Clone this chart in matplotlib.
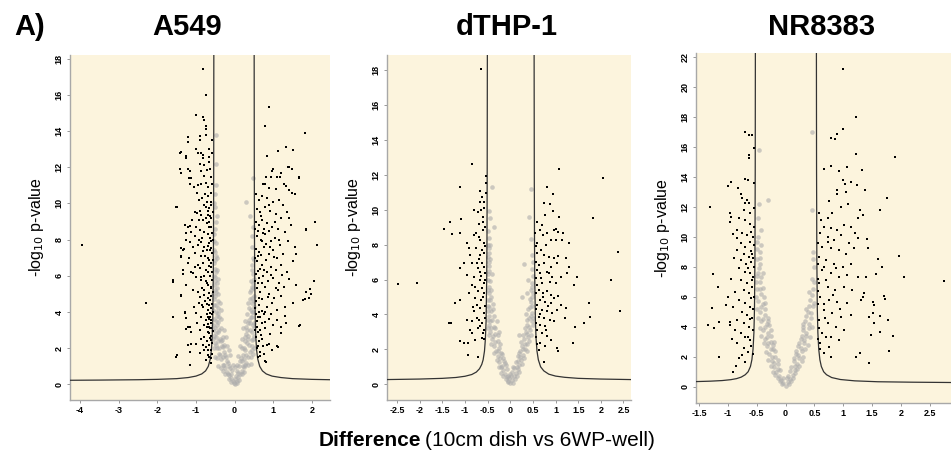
import numpy as np
import matplotlib
matplotlib.use("Agg")
import matplotlib.pyplot as plt

plt.rcParams['axes.unicode_minus'] = False
SANS = ['Liberation Sans', 'DejaVu Sans']

titles = ["A549", "dTHP-1", "NR8383"]

# ---- A549 ----
a549_sig = [
    (-0.82, 17.4), (-0.73, 16.0), (-1.01, 14.9), (-0.82, 14.8), (-0.78, 14.6), (-1.21, 13.65), (-0.89, 13.7),
    (-0.73, 14.3), (-0.73, 14.1), (-0.73, 13.8), (-1.38, 12.85), (-1.25, 12.6), (-1.38, 11.7), (-1.16, 11.8),
    (-1.16, 11.1), (-1.51, 9.8), (-1.16, 8.73), (-1.25, 8.0), (-1.32, 7.5), (-1.38, 7.1), (-1.33, 6.1),
    (-1.59, 5.67), (-1.38, 4.9), (-1.29, 4.0), (-1.59, 3.7), (-1.16, 3.2), (-1.25, 3.07), (-1.2, 2.2),
    (-1.51, 1.54), (-1.16, 1.07), (-2.28, 4.5), (-3.96, 7.7),
    (-1.21, 13.4), (-0.9, 13.5), (-0.58, 13.5), (-1.4, 12.8), (-1.27, 12.5), (-0.99, 13.0), (-0.94, 12.8),
    (-0.86, 12.8), (-0.82, 12.7), (-0.65, 13.0), (-1.4, 11.9), (-1.21, 11.9), (-0.9, 12.2), (-0.78, 12.1),
    (-0.72, 11.84), (-0.82, 12.5), (-0.66, 12.57), (-0.6, 11.47), (-1.17, 11.4), (-1.12, 11.4), (-0.95, 11.0),
    (-0.86, 11.1), (-0.73, 11.15), (-0.69, 10.9), (-0.58, 11.1), (-1.49, 9.8),
    (-1.03, 9.54), (-0.97, 9.45), (-0.9, 9.57), (-0.86, 9.35), (-0.75, 9.81), (-0.72, 10.1), (-0.65, 9.72),
    (-0.69, 9.35), (-0.82, 9.08), (-0.72, 8.9), (-0.6, 9.17), (-0.99, 8.7), (-0.9, 8.52), (-0.78, 8.43),
    (-0.65, 8.7), (-0.58, 8.34), (-1.21, 8.7), (-1.14, 8.43), (-1.34, 7.42), (-1.39, 7.05), (-1.17, 6.96),
    (-1.03, 7.24), (-0.95, 7.7), (-0.86, 7.88), (-0.78, 7.6), (-0.72, 7.42), (-0.65, 7.79), (-0.58, 7.24),
    (-0.65, 6.87), (-0.82, 6.69), (-0.9, 6.41), (-0.75, 6.31), (-0.6, 6.5), (-0.99, 5.94), (-0.86, 5.76),
    (-0.72, 5.58), (-0.58, 5.76), (-0.78, 5.21), (-0.65, 5.03), (-0.9, 4.84), (-0.58, 4.47), (-0.82, 4.29),
    (-0.69, 4.1), (-0.99, 3.92), (-0.86, 3.73), (-0.63, 3.73), (-0.75, 3.55), (-0.72, 3.18), (-0.9, 3.0),
    (-0.65, 2.82), (-0.78, 2.63), (-0.6, 2.45), (-0.82, 2.17), (-0.69, 1.9), (-0.9, 1.71), (-0.65, 1.52),
    (-0.75, 1.34), (-0.6, 1.16), (-1.59, 5.76), (-1.38, 4.93), (-1.29, 3.92), (-1.25, 3.65), (-1.21, 3.18),
    (-1.12, 2.91), (-1.12, 2.26), (-1.49, 1.62), (-1.16, 1.8), (-0.99, 2.26), (-1.25, 5.49), (-1.12, 6.22),
    (-1.08, 6.13), (-1.34, 6.31), (-1.21, 6.69), (-1.38, 7.51), (-1.16, 7.88), (-1.25, 8.34), (-1.29, 8.8),
    (-0.62, 9.9), (-0.7, 9.6), (-0.8, 9.9), (-0.93, 10.2), (-0.68, 10.4), (-0.6, 10.6), (-0.77, 10.5),
    (-0.85, 10.3), (-0.64, 8.1), (-0.7, 8.3), (-0.84, 8.1), (-0.92, 8.0), (-0.6, 7.9), (-0.76, 7.1),
    (-0.68, 7.0), (-0.62, 6.7), (-0.88, 7.1), (-0.7, 6.2), (-0.64, 6.0), (-0.8, 6.0), (-0.95, 6.6),
    (-0.68, 5.5), (-0.62, 5.3), (-0.74, 5.7), (-0.85, 5.3), (-0.94, 5.1), (-0.7, 4.8), (-0.62, 4.9),
    (-0.76, 4.6), (-0.66, 4.4), (-0.6, 4.2), (-0.72, 3.9), (-0.66, 3.6), (-0.6, 3.4), (-0.69, 3.35),
    (-0.63, 3.1), (-0.8, 3.3), (-0.84, 4.4), (-0.93, 4.5), (-0.68, 2.9), (-0.61, 2.7), (-0.72, 2.4),
    (-0.66, 2.2), (-0.6, 1.9), (-0.62, 1.45), (-0.7, 1.6), (-0.8, 1.9), (-0.88, 2.5), (-0.96, 3.4),
    (-1.05, 4.3), (-1.07, 5.2), (-1.02, 6.5), (-1.08, 7.6), (-1.02, 8.2), (-1.09, 9.1), (-0.97, 10.6),
    (-1.05, 10.9), (-0.63, 11.9), (-0.67, 12.3), (-0.59, 12.8), (-0.6, 10.1), (-0.6, 8.7), (-0.61, 7.55),
    (-0.59, 6.2), (-0.6, 5.4), (-0.59, 3.9), (-0.6, 3.1), (-0.59, 2.3),
    (-0.57, 9.5), (-0.63, 9.3), (-0.67, 8.95), (-0.74, 9.2), (-0.57, 8.0), (-0.63, 7.45), (-0.69, 7.65),
    (-0.57, 6.9), (-0.66, 6.55), (-0.57, 5.1), (-0.64, 4.65), (-0.71, 4.45), (-0.57, 4.0), (-0.64, 3.95),
    (-0.7, 3.75), (-0.61, 3.55), (-0.67, 3.15), (-0.57, 2.95), (-0.64, 2.55), (-0.58, 1.7), (-0.74, 2.05),
    (-0.78, 4.95), (-0.88, 5.95), (-0.81, 7.35), (-0.92, 9.1), (-0.79, 11.5), (-0.88, 11.8),
    (0.89, 15.35), (0.78, 14.25), (1.81, 13.9), (1.34, 13.1), (1.52, 12.95), (1.13, 12.9), (0.84, 12.6),
    (1.39, 12.0), (1.48, 11.9), (1.68, 11.4), (0.97, 11.8), (1.19, 11.7), (0.78, 11.1), (1.48, 10.55),
    (1.56, 10.5), (2.07, 8.98), (1.86, 8.55), (2.13, 7.7), (1.56, 7.6), (1.6, 5.5), (1.86, 5.1), (1.99, 5.0),
    (2.05, 5.7), (1.77, 4.67), (1.69, 3.3), (1.33, 3.4), (1.19, 2.85), (1.1, 2.1), (0.8, 1.3),
    (1.41, 12.0), (0.99, 11.88), (1.09, 11.47), (1.18, 11.44), (0.95, 11.44), (0.82, 11.47), (0.73, 11.1),
    (0.9, 10.83), (1.06, 10.78), (1.27, 11.1), (1.34, 10.96), (1.42, 10.72), (1.66, 11.47), (1.94, 5.25),
    (1.81, 4.71), (1.92, 4.77), (1.67, 3.23), (1.09, 3.55), (1.2, 3.19), (1.12, 2.08), (0.82, 1.25),
    (0.9, 2.26), (1.85, 8.56),
    (0.56, 10.5), (0.62, 10.2), (0.7, 10.4), (0.85, 10.3), (1.0, 10.1), (1.15, 10.2), (1.25, 9.9), (0.58, 9.7),
    (0.66, 9.5), (0.78, 9.8), (0.92, 9.6), (1.08, 9.4), (1.2, 9.2), (1.35, 9.5), (0.55, 9.0), (0.63, 8.8),
    (0.72, 9.1), (0.85, 8.9), (0.98, 8.7), (1.12, 8.6), (1.3, 8.4), (1.45, 8.8), (0.57, 8.2), (0.68, 8.0),
    (0.8, 8.3), (0.93, 7.9), (1.05, 8.1), (1.18, 7.7), (1.38, 7.9), (0.55, 7.5), (0.64, 7.3), (0.75, 7.6),
    (0.88, 7.2), (1.0, 7.4), (1.1, 7.0), (1.25, 7.2), (1.5, 6.8), (0.58, 6.8), (0.7, 6.6), (0.82, 6.9),
    (0.95, 6.5), (1.08, 6.3), (1.2, 6.6), (1.35, 6.2), (0.55, 6.1), (0.62, 5.9), (0.74, 6.0), (0.86, 5.7),
    (1.0, 5.9), (1.14, 5.6), (1.28, 5.4), (0.57, 5.3), (0.67, 5.1), (0.78, 5.4), (0.9, 5.0), (1.03, 4.8),
    (1.2, 4.9), (0.55, 4.6), (0.63, 4.4), (0.72, 4.7), (0.84, 4.3), (0.97, 4.5), (1.1, 4.1), (1.3, 4.3),
    (0.56, 3.9), (0.65, 3.7), (0.76, 3.9), (0.88, 3.6), (1.0, 3.3), (0.58, 3.2), (0.66, 3.0), (0.8, 3.1),
    (0.92, 2.8), (0.55, 2.6), (0.62, 2.4), (0.72, 2.5), (0.85, 2.2), (0.57, 2.0), (0.65, 1.8), (0.6, 1.5),
    (0.75, 1.7), (0.98, 1.9), (0.6, 2.9), (0.64, 4.0), (0.6, 5.6), (0.66, 6.4), (0.6, 7.1), (0.7, 7.9),
    (0.6, 8.5), (0.76, 8.6), (0.68, 9.3), (0.88, 9.9), (0.57, 3.5), (0.7, 3.4), (0.7, 5.6), (0.83, 6.2),
    (0.92, 7.6), (1.04, 9.0), (1.15, 8.0), (0.8, 4.0), (0.95, 3.9), (1.13, 5.2), (1.4, 5.8), (1.3, 3.8),
    (1.5, 4.5), (1.42, 9.2), (1.58, 7.2),
    (0.53, 8.6), (0.54, 7.0), (0.53, 5.7), (0.54, 4.2), (0.53, 3.0), (0.61, 6.25), (0.69, 7.15), (0.77, 6.3),
    (0.63, 4.75), (0.71, 4.05), (0.79, 3.45), (0.6, 3.75), (0.68, 2.75), (0.61, 2.15), (0.73, 2.1), (0.66, 1.55),
    (0.87, 4.85), (0.93, 6.05), (1.02, 7.05), (0.81, 7.75), (0.74, 8.35), (0.9, 8.45), (1.22, 6.05), (1.06, 5.35),
]
a549_ns = [
    (0, 0.05), (-0.05, 0.2), (0.05, 0.2), (-0.1, 0.35), (0.1, 0.4), (0, 0.3), (-0.15, 0.5), (0.15, 0.55),
    (-0.2, 0.7), (0.2, 0.75), (-0.08, 0.6), (0.08, 0.65), (-0.25, 0.9), (0.25, 0.95), (-0.12, 0.9), (0.12, 1.0),
    (-0.3, 1.1), (0.3, 1.2), (-0.18, 1.2), (0.18, 1.3), (-0.35, 1.4), (0.35, 1.5), (-0.22, 1.5), (0.22, 1.6),
    (-0.4, 1.7), (0.4, 1.8), (-0.28, 1.8), (0.27, 1.9), (-0.45, 2.0), (0.45, 2.1), (-0.33, 2.1), (0.32, 2.3),
    (-0.5, 2.3), (0.48, 2.5), (-0.38, 2.5), (0.36, 2.7), (-0.52, 2.7), (-0.42, 2.9), (0.4, 3.0), (-0.3, 2.6),
    (0.3, 2.8), (-0.5, 3.1), (0.47, 3.3), (-0.45, 3.3), (0.35, 3.4), (-0.52, 3.6), (0.42, 3.7), (-0.4, 3.7),
    (0.48, 4.0), (-0.48, 4.0), (0.38, 4.2), (-0.52, 4.4), (0.45, 4.5), (-0.44, 4.6), (0.49, 4.9), (-0.5, 4.9),
    (0.42, 5.2), (-0.46, 5.3), (0.47, 5.6), (-0.51, 5.7), (-0.48, 6.2), (0.45, 6.3), (-0.52, 6.7), (0.49, 6.9),
    (-0.5, 7.3), (-0.47, 7.8), (0.46, 7.6), (-0.52, 8.3), (-0.49, 9.0), (0.48, 8.7), (-0.5, 9.8), (0.41, 9.3),
    (0.47, 11.4), (-0.47, 11.0), (-0.48, 12.2), (-0.47, 13.8), (-0.5, 10.5), (0.3, 10.1),
    (-0.02, 0.1), (0.03, 0.45), (-0.06, 0.8), (0.07, 1.1), (-0.15, 1.0), (0.14, 1.3), (-0.2, 1.3), (-0.25, 1.6),
    (0.25, 1.4), (-0.27, 2.2), (0.2, 2.0), (-0.35, 2.4), (0.28, 2.4), (-0.4, 3.0), (0.33, 3.0), (-0.45, 3.8),
    (0.4, 3.4), (-0.42, 4.2), (0.44, 4.0), (-0.5, 5.2), (0.4, 4.7), (-0.44, 5.8), (0.43, 5.7), (-0.5, 6.4),
    (0.46, 6.6), (-0.46, 7.0),
    (-0.15, 0.3), (0.12, 0.25), (-0.08, 0.15), (0.06, 0.1), (-0.25, 0.6), (-0.18, 0.55), (0.18, 0.6),
    (0.25, 0.7), (-0.3, 0.75), (0.05, 0.75), (-0.42, 1.0), (-0.35, 0.9), (-0.28, 1.05), (-0.05, 1.05),
    (0.02, 0.95), (0.22, 1.0), (0.28, 1.1), (0.36, 1.05), (0.42, 1.15), (-0.5, 1.5), (-0.45, 1.45),
    (-0.38, 1.6), (-0.3, 1.5), (-0.13, 1.6), (0.1, 1.55), (0.16, 1.45), (0.3, 1.6), (0.42, 1.5), (0.47, 1.7),
    (-0.54, 2.0), (-0.48, 2.2), (-0.4, 2.0), (-0.3, 2.05), (-0.2, 2.1), (-0.15, 1.9), (0.14, 2.1), (0.24, 2.0),
    (0.38, 2.2), (0.5, 2.0), (0.44, 1.9), (-0.55, 2.5), (-0.47, 2.6), (-0.42, 2.4), (-0.32, 2.45), (-0.22, 2.6),
    (0.18, 2.5), (0.26, 2.6), (0.44, 2.45), (0.5, 2.7), (0.34, 2.5), (-0.56, 3.0), (-0.48, 2.85), (-0.36, 3.1),
    (-0.28, 3.0), (0.22, 3.1), (0.3, 3.2), (0.44, 2.9), (0.5, 3.1), (-0.55, 3.3), (-0.48, 3.5), (-0.42, 3.45),
    (-0.35, 3.6), (0.27, 3.5), (0.38, 3.55), (0.46, 3.7), (0.5, 3.4), (-0.55, 4.1), (-0.44, 3.95), (-0.36, 4.1),
    (0.32, 3.9), (0.42, 4.1), (0.5, 4.3), (-0.54, 4.7), (-0.47, 4.4), (-0.38, 4.5), (0.35, 4.5), (0.44, 4.8),
    (0.5, 4.6), (-0.55, 5.0), (-0.48, 5.1), (-0.42, 5.0), (0.4, 5.1), (0.47, 5.3), (-0.53, 5.5), (-0.45, 5.6),
    (0.44, 5.4), (0.5, 5.8), (-0.54, 6.0), (-0.46, 6.3), (-0.5, 5.95), (0.48, 6.1), (-0.5, 6.9), (-0.53, 7.4),
    (-0.48, 7.1), (0.47, 7.0), (-0.52, 7.9), (-0.5, 8.6), (0.44, 8.2), (-0.45, 9.3), (-0.52, 10.0),
]
a549_curve_left_x = [-4.26, -3.5, -3.0, -2.5, -2.0, -1.5, -1.2, -1.0, -0.85, -0.75, -0.68, -0.63, -0.6, -0.58, -0.565, -0.55, -0.545, -0.54, -0.537]
a549_curve_left_y = [0.23, 0.24, 0.25, 0.26, 0.28, 0.32, 0.38, 0.46, 0.58, 0.75, 1.0, 1.4, 1.9, 2.6, 3.6, 6.2, 8.2, 12.2, 18.3]
a549_curve_right_x = [0.507, 0.51, 0.515, 0.52, 0.535, 0.55, 0.57, 0.6, 0.65, 0.72, 0.82, 0.97, 1.2, 1.5, 2.0, 2.47]
a549_curve_right_y = [18.3, 12.2, 8.2, 6.2, 3.6, 2.6, 1.9, 1.4, 1.0, 0.75, 0.58, 0.46, 0.38, 0.32, 0.28, 0.26]

# ---- dTHP-1 ----
dthp_sig = [
    (-0.65, 18.04), (-0.84, 12.62), (-1.11, 11.32), (-0.54, 11.95), (-0.54, 11.51), (-0.54, 10.94), (-0.68, 11.09),
    (-0.63, 10.71), (-0.66, 10.46), (-0.59, 10.46), (-0.57, 10.08), (-0.61, 9.6), (-0.8, 9.98), (-0.72, 9.88),
    (-1.08, 9.44), (-1.33, 9.31), (-1.46, 8.87), (-1.29, 8.61), (-1.1, 8.65), (-0.96, 8.08), (-0.91, 7.8),
    (-0.8, 8.56), (-0.75, 8.65), (-0.7, 8.46), (-0.61, 8.85), (-0.66, 8.27), (-0.59, 8.08), (-0.66, 7.41),
    (-0.59, 7.5), (-0.73, 6.93), (-0.63, 6.93), (-0.57, 6.74), (-0.85, 6.93), (-0.72, 6.64), (-0.66, 6.45),
    (-0.55, 6.36), (-0.8, 6.17), (-0.68, 5.98), (-0.59, 5.79), (-0.63, 5.51), (-0.72, 5.32), (-0.57, 5.22),
    (-1.03, 6.93), (-1.12, 6.64), (-0.96, 6.26), (-0.85, 5.69), (-0.92, 5.22), (-0.77, 4.93), (-1.11, 4.84),
    (-1.22, 4.65), (-2.49, 5.74), (-2.05, 5.81), (-1.36, 3.51), (-1.32, 3.51), (-1.12, 2.5), (-1.03, 2.35),
    (-0.94, 2.35), (-0.94, 1.68), (-0.72, 1.59), (-0.8, 4.17), (-0.73, 3.79), (-0.7, 3.7), (-0.66, 3.32),
    (-0.59, 3.13), (-0.61, 2.94), (-0.63, 2.66), (-0.72, 3.22), (-0.85, 2.94), (-0.77, 2.56), (-0.9, 3.13),
    (-0.96, 3.7), (-0.85, 3.6), (-0.68, 4.36), (-0.59, 4.07), (-0.64, 4.84), (-0.73, 4.55),
    (-0.56, 7.9), (-0.62, 7.7), (-0.7, 7.2), (-0.56, 6.0), (-0.6, 5.0), (-0.56, 4.5), (-0.62, 3.5), (-0.56, 3.8),
    (-0.57, 2.6), (-0.65, 6.2), (-0.76, 7.8), (-0.88, 7.4), (-0.78, 5.6), (-0.82, 4.4), (-0.6, 9.3), (-0.56, 9.0),
    (-0.7, 9.2), (-0.64, 10.0),
    (1.08, 12.33), (2.05, 11.8), (1.83, 9.54), (2.38, 7.59), (2.23, 5.98), (2.43, 4.19), (0.81, 11.32),
    (0.94, 10.9), (0.75, 10.4), (0.87, 10.33), (0.94, 9.94), (0.77, 9.7), (1.08, 9.56), (0.55, 8.65),
    (0.66, 8.85), (0.81, 8.65), (0.96, 8.85), (1.02, 8.87), (1.05, 8.75), (1.17, 8.65), (1.29, 8.12),
    (1.15, 8.24), (1.0, 8.24), (0.89, 8.27), (0.72, 8.56), (0.6, 8.08), (0.59, 7.5), (0.74, 7.41), (0.85, 7.31),
    (0.96, 7.22), (1.05, 7.35), (1.22, 7.22), (1.29, 6.74), (1.03, 6.93), (0.89, 6.74), (0.75, 6.93),
    (0.63, 6.83), (0.58, 6.55), (0.66, 6.36), (0.81, 6.45), (0.92, 6.17), (1.11, 6.17), (1.0, 5.79),
    (0.87, 5.88), (0.7, 5.79), (0.59, 5.69), (1.25, 6.36), (1.48, 6.17), (1.4, 5.69), (0.63, 5.41), (0.72, 5.22),
    (0.81, 5.32), (0.9, 5.13), (0.96, 4.93), (1.05, 5.03), (0.66, 4.84), (0.77, 4.74), (0.89, 4.65), (0.59, 4.55),
    (0.7, 4.26), (0.81, 4.17), (0.92, 4.07), (1.03, 4.26), (0.63, 3.88), (0.74, 3.79), (0.87, 3.7), (0.96, 3.6),
    (0.66, 3.41), (0.77, 3.32), (0.59, 3.13), (0.7, 2.94), (0.81, 2.75), (0.9, 2.56), (0.66, 2.35), (0.77, 2.18),
    (0.63, 1.99), (1.12, 4.55), (1.22, 4.36), (1.2, 3.79), (1.42, 3.28), (1.62, 3.51), (1.73, 4.65), (1.75, 3.88),
    (1.38, 2.35), (1.03, 2.07), (1.05, 1.88), (0.75, 1.25),
    (0.56, 7.9), (0.57, 7.0), (0.56, 6.1), (0.57, 5.2), (0.56, 4.3), (0.57, 3.5), (0.56, 2.7), (0.6, 2.3),
    (0.68, 7.7), (0.78, 8.0), (0.85, 6.4), (0.68, 6.1), (0.73, 5.0), (0.84, 4.5), (0.66, 4.0), (0.78, 3.1),
    (0.6, 9.3), (0.7, 9.1),
]
dthp_ns = [
    (0, 0.05), (-0.04, 0.2), (0.04, 0.25), (-0.08, 0.4), (0.08, 0.45), (-0.12, 0.6), (0.12, 0.65), (-0.02, 0.35),
    (0.02, 0.5), (-0.16, 0.8), (0.16, 0.85), (-0.08, 0.9), (0.08, 0.95), (-0.2, 1.0), (0.2, 1.1), (-0.12, 1.2),
    (0.12, 1.3), (-0.24, 1.3), (0.24, 1.4), (-0.16, 1.5), (0.17, 1.6), (-0.28, 1.6), (0.28, 1.7), (-0.2, 1.8),
    (0.22, 1.9), (-0.32, 1.9), (0.32, 2.0), (-0.24, 2.1), (0.26, 2.2), (-0.36, 2.2), (0.36, 2.3), (-0.28, 2.5),
    (0.3, 2.6), (-0.4, 2.6), (0.4, 2.7), (-0.33, 2.9), (0.34, 3.0), (-0.44, 3.0), (0.44, 3.1), (-0.37, 3.3),
    (0.38, 3.4), (-0.47, 3.4), (0.47, 3.6), (-0.4, 3.7), (0.42, 3.8), (-0.48, 3.9), (0.48, 4.1), (-0.43, 4.2),
    (0.44, 4.4), (-0.49, 4.5), (0.46, 4.7), (-0.45, 4.8), (0.49, 5.0), (-0.48, 5.2), (0.45, 5.4), (-0.46, 5.6),
    (0.48, 5.8), (-0.49, 6.0), (-0.47, 6.5), (0.47, 6.6), (-0.48, 7.0), (-0.46, 7.5), (0.49, 7.4), (-0.49, 8.0),
    (-0.47, 8.4), (0.45, 8.3), (-0.35, 9.0), (0.42, 9.6), (0.45, 11.2), (-0.4, 11.3), (-0.45, 9.5), (0.3, 6.9),
    (0.0, 0.6), (-0.3, 3.6), (0.35, 4.0), (-0.38, 4.6), (0.38, 5.2), (-0.42, 5.4), (0.4, 6.0), (-0.41, 6.3),
    (-0.44, 7.2), (0.25, 5.0), (-0.25, 3.0), (0.2, 2.8),
    (-0.06, 0.15), (0.05, 0.1), (-0.1, 0.3), (0.1, 0.3), (-0.15, 0.45), (0.14, 0.5), (-0.2, 0.65), (0.19, 0.7),
    (-0.05, 0.5), (0.04, 0.7), (-0.26, 1.0), (-0.18, 1.05), (-0.1, 1.1), (0.06, 1.0), (0.15, 1.0), (0.25, 1.15),
    (-0.3, 1.4), (-0.22, 1.5), (-0.14, 1.35), (0.16, 1.35), (0.22, 1.55), (0.3, 1.5), (-0.36, 1.8), (-0.28, 1.9),
    (-0.18, 1.75), (0.2, 1.8), (0.28, 2.0), (0.36, 1.9), (-0.42, 2.3), (-0.34, 2.4), (-0.22, 2.3), (0.24, 2.4),
    (0.32, 2.3), (0.42, 2.5), (-0.46, 2.8), (-0.38, 2.75), (-0.28, 2.8), (0.28, 2.8), (0.36, 2.9), (0.46, 2.8),
    (-0.5, 3.2), (-0.42, 3.25), (-0.33, 3.2), (0.32, 3.2), (0.42, 3.3), (0.5, 3.4), (-0.5, 3.7), (-0.44, 3.6),
    (-0.35, 3.9), (0.36, 3.7), (0.45, 3.9), (0.5, 3.8), (-0.5, 4.2), (-0.46, 4.4), (-0.38, 4.3), (0.4, 4.3),
    (0.48, 4.5), (-0.5, 4.8), (-0.42, 5.0), (0.43, 4.9), (0.5, 5.2), (-0.5, 5.4), (-0.44, 5.9), (-0.5, 6.3),
    (-0.46, 6.8), (-0.5, 7.3), (-0.48, 7.8), (-0.44, 8.0), (0.47, 5.6), (0.5, 6.2), (-0.5, 8.8), (-0.47, 9.9),
    (0.5, 7.0),
]
dthp_curve_left_x = [-2.73, -2.0, -1.5, -1.2, -1.0, -0.85, -0.75, -0.68, -0.63, -0.6, -0.57, -0.55, -0.535, -0.52, -0.515, -0.51, -0.5065]
dthp_curve_left_y = [0.27, 0.3, 0.34, 0.39, 0.46, 0.56, 0.7, 0.89, 1.14, 1.4, 1.9, 2.6, 3.6, 6.2, 8.2, 12.2, 18.9]
dthp_curve_right_x = [0.5265, 0.53, 0.535, 0.54, 0.555, 0.57, 0.59, 0.62, 0.67, 0.74, 0.85, 1.0, 1.2, 1.5, 2.0, 2.66]
dthp_curve_right_y = [18.9, 12.2, 8.2, 6.2, 3.6, 2.6, 1.9, 1.4, 1.0, 0.77, 0.58, 0.47, 0.4, 0.34, 0.3, 0.27]

# ---- NR8383 ----
nr_sig = [
    (-1.31, 11.98), (-1.26, 7.53), (-1.18, 6.63), (-1.28, 5.23), (-1.35, 4.12), (-1.24, 3.9), (-1.15, 4.34),
    (-1.03, 5.49), (-1.15, 1.99), (-0.96, 4.34), (-0.97, 4.12), (-0.93, 3.19), (-0.92, 1.0), (-1.0, 13.4),
    (-0.94, 13.7), (-0.97, 11.58), (-0.94, 11.36), (-0.96, 11.02), (-0.91, 10.2), (-0.85, 9.91), (-0.83, 13.25),
    (-0.78, 12.85), (-0.75, 12.58), (-0.7, 12.25), (-0.7, 17.03), (-0.64, 16.8), (-0.58, 16.8), (-0.54, 15.92),
    (-0.64, 15.48), (-0.63, 15.26), (-0.7, 13.9), (-0.66, 13.8), (-0.55, 13.6), (-0.67, 12.47), (-0.64, 12.29),
    (-0.72, 11.8), (-0.61, 11.58), (-0.55, 11.91), (-0.81, 11.25), (-0.7, 11.14), (-0.61, 10.88), (-0.54, 10.7),
    (-0.84, 10.47), (-0.75, 10.25), (-0.67, 10.13), (-0.6, 10.36), (-0.56, 9.98), (-0.78, 9.58), (-0.7, 9.35),
    (-0.62, 9.69), (-0.55, 9.47), (-0.84, 9.13), (-0.72, 8.9), (-0.64, 8.69), (-0.58, 8.9), (-0.77, 8.46),
    (-0.68, 8.23), (-0.6, 8.35), (-0.54, 8.01), (-0.81, 7.9), (-0.71, 7.68), (-0.62, 7.57), (-0.56, 7.35),
    (-0.78, 7.13), (-0.67, 6.9), (-0.58, 6.68), (-0.73, 6.46), (-0.64, 6.24), (-0.55, 6.01), (-0.81, 5.79),
    (-0.7, 5.57), (-0.61, 5.35), (-0.75, 5.01), (-0.67, 4.79), (-0.58, 4.57), (-0.84, 4.45), (-0.72, 4.23),
    (-0.64, 4.01), (-0.56, 3.78), (-0.78, 3.56), (-0.7, 3.34), (-0.61, 3.12), (-0.85, 2.89), (-0.73, 2.56),
    (-0.66, 2.34), (-0.81, 1.89), (-0.7, 1.67),
    (-0.9, 8.6), (-0.95, 7.2), (-0.88, 6.3), (-0.92, 5.3), (-1.0, 6.0), (-0.88, 3.8), (-0.6, 9.1), (-0.56, 8.6),
    (-0.66, 7.9), (-0.58, 7.1), (-0.6, 5.9), (-0.56, 5.2), (-0.62, 4.5), (-0.66, 3.3), (-0.6, 2.7), (-0.57, 2.2),
    (-0.76, 2.1), (-0.86, 1.4),
    (1.0, 21.22), (1.23, 18.0), (1.0, 17.19), (0.9, 16.86), (0.78, 16.64), (0.85, 16.53), (1.89, 15.37),
    (1.23, 15.55), (0.67, 14.54), (0.78, 14.74), (0.93, 14.41), (1.07, 14.69), (1.32, 14.47), (1.0, 13.8),
    (1.03, 13.53), (1.14, 13.69), (1.24, 13.46), (1.38, 13.17), (0.9, 13.13), (0.89, 12.91), (1.05, 13.02),
    (1.76, 12.58), (0.75, 12.4), (0.96, 12.02), (1.29, 11.84), (1.35, 11.46), (1.26, 11.24), (1.64, 11.84),
    (1.96, 8.75), (2.06, 7.35), (2.74, 7.08), (1.68, 7.97), (1.6, 8.52), (1.42, 9.85), (1.43, 9.25),
    (1.39, 7.31), (1.56, 7.51), (1.35, 6.02), (1.51, 5.68), (1.53, 5.46), (1.51, 4.95), (1.53, 4.28),
    (1.45, 4.68), (1.64, 4.72), (1.71, 6.06), (1.72, 5.84), (1.63, 3.68), (1.77, 4.46), (1.86, 3.39),
    (1.8, 2.4), (1.49, 3.45), (1.29, 2.27), (1.22, 1.96), (1.45, 1.56),
    (0.58, 11.58), (0.62, 11.14), (0.73, 11.25), (0.81, 11.58), (0.67, 10.7), (0.78, 10.58), (0.9, 10.47),
    (1.01, 10.81), (1.13, 10.7), (0.6, 10.25), (0.73, 10.02), (0.84, 9.8), (0.96, 10.13), (1.1, 9.58),
    (1.25, 9.91), (0.64, 9.35), (0.78, 9.24), (0.93, 9.13), (1.05, 8.9), (1.19, 9.24), (0.58, 8.69), (0.7, 8.46),
    (0.84, 8.23), (0.99, 8.01), (1.13, 8.23), (0.64, 7.79), (0.78, 7.57), (0.93, 7.35), (1.07, 7.46),
    (1.25, 7.35), (0.58, 6.9), (0.73, 6.68), (0.85, 6.46), (1.01, 6.68), (1.16, 6.46), (1.36, 6.24), (0.6, 6.01),
    (0.76, 5.79), (0.9, 5.68), (1.07, 5.57), (1.31, 5.79), (0.67, 5.12), (0.81, 4.9), (0.96, 4.68), (1.13, 4.79),
    (0.58, 4.45), (0.73, 4.23), (0.87, 4.01), (1.01, 3.78), (0.64, 3.56), (0.78, 3.34), (0.93, 3.12), (0.6, 2.89),
    (0.76, 2.67), (0.67, 2.22), (0.78, 2.0),
    (0.56, 9.6), (0.57, 8.2), (0.56, 7.2), (0.57, 6.4), (0.56, 5.5), (0.58, 3.9), (0.57, 3.2), (0.6, 2.5),
    (0.66, 8.0), (0.7, 7.1), (0.66, 5.5), (0.68, 4.6), (0.7, 3.3), (0.88, 7.9), (0.82, 6.1), (0.95, 5.2),
    (0.74, 9.7), (1.2, 10.3), (1.08, 12.2),
]
nr_ns = [
    (0, 0.05), (-0.04, 0.25), (0.04, 0.3), (-0.08, 0.45), (0.08, 0.5), (-0.12, 0.7), (0.12, 0.8), (-0.05, 0.6),
    (0.05, 0.7), (-0.16, 1.0), (0.16, 1.1), (-0.1, 1.1), (0.1, 1.3), (-0.2, 1.3), (0.2, 1.5), (-0.14, 1.5),
    (0.14, 1.7), (-0.24, 1.7), (0.24, 1.9), (-0.18, 2.0), (0.18, 2.2), (-0.28, 2.2), (0.28, 2.4), (-0.22, 2.5),
    (0.22, 2.7), (-0.32, 2.7), (0.32, 2.9), (-0.26, 3.0), (0.26, 3.2), (-0.35, 3.2), (0.36, 3.4), (-0.3, 3.6),
    (0.3, 3.8), (-0.39, 3.8), (0.4, 3.9), (-0.33, 4.2), (0.34, 4.4), (-0.42, 4.4), (0.44, 4.6), (-0.36, 4.8),
    (0.38, 5.0), (-0.45, 5.0), (0.47, 5.4), (-0.4, 5.5), (0.42, 5.8), (-0.48, 5.7), (-0.43, 6.2), (0.48, 6.5),
    (-0.5, 6.5), (-0.45, 7.0), (0.45, 7.2), (-0.5, 7.4), (-0.47, 7.9), (0.5, 8.0), (-0.5, 8.5), (-0.45, 9.0),
    (0.48, 9.0), (-0.49, 9.7), (-0.42, 10.5), (-0.48, 11.3), (0.46, 11.8), (-0.46, 12.2), (-0.46, 15.8),
    (0.45, 17.0), (-0.3, 12.5), (-0.38, 6.0), (-0.35, 5.2), (-0.3, 4.6), (-0.26, 3.8), (0.3, 4.2), (-0.4, 7.6),
    (-0.44, 8.2), (0.4, 6.3), (-0.2, 3.0), (0.35, 5.2), (-0.48, 10.0),
    (-0.06, 0.2), (0.06, 0.15), (-0.1, 0.35), (0.1, 0.4), (-0.14, 0.55), (0.13, 0.6), (-0.18, 0.75), (0.17, 0.9),
    (0.02, 0.55), (-0.22, 1.0), (-0.14, 1.2), (0.08, 1.05), (0.2, 1.2), (0.24, 1.4), (-0.26, 1.35), (-0.2, 1.6),
    (0.16, 1.4), (0.28, 1.7), (-0.3, 1.8), (-0.24, 2.0), (-0.14, 1.8), (0.14, 1.9), (0.22, 2.1), (0.3, 2.0),
    (-0.34, 2.3), (-0.26, 2.5), (-0.18, 2.4), (0.18, 2.4), (0.26, 2.6), (0.34, 2.5), (-0.38, 2.9), (-0.3, 2.9),
    (-0.22, 2.8), (0.24, 2.9), (0.32, 3.1), (0.38, 2.8), (-0.42, 3.4), (-0.33, 3.3), (-0.25, 3.4), (0.28, 3.4),
    (0.36, 3.6), (0.42, 3.3), (-0.45, 3.9), (-0.35, 4.0), (-0.28, 4.1), (0.3, 4.0), (0.4, 4.2), (0.46, 4.0),
    (-0.48, 4.6), (-0.4, 4.5), (-0.3, 4.4), (0.36, 4.7), (0.44, 4.9), (-0.5, 5.2), (-0.42, 5.3), (-0.36, 5.6),
    (0.4, 5.4), (0.5, 5.6), (-0.52, 6.0), (-0.45, 6.5), (-0.4, 6.6), (0.46, 6.1), (-0.52, 7.0), (-0.42, 7.3),
    (-0.48, 7.6), (0.5, 7.0), (-0.45, 8.6), (-0.5, 9.2), (-0.43, 9.5), (0.48, 8.5),
]
nr_curve_left_x = [-1.56, -1.3, -1.1, -0.95, -0.85, -0.77, -0.7, -0.65, -0.61, -0.585, -0.565, -0.55, -0.54, -0.532, -0.527, -0.5245]
nr_curve_left_y = [0.34, 0.37, 0.41, 0.47, 0.54, 0.64, 0.8, 1.0, 1.35, 1.8, 2.5, 3.6, 5.2, 8.6, 14.5, 22.5]
nr_curve_right_x = [0.5345, 0.537, 0.542, 0.55, 0.56, 0.575, 0.595, 0.62, 0.66, 0.71, 0.8, 0.95, 1.2, 1.6, 2.2, 2.87]
nr_curve_right_y = [22.5, 14.5, 8.6, 5.2, 3.6, 2.5, 1.8, 1.35, 1.0, 0.8, 0.61, 0.48, 0.39, 0.33, 0.3, 0.28]

a549_xticks = [-4, -3, -2, -1, 0, 1, 2]
dthp_xticks = [-2.5, -2, -1.5, -1, -0.5, 0, 0.5, 1, 1.5, 2, 2.5]
nr_xticks = [-1.5, -1, -0.5, 0, 0.5, 1, 1.5, 2, 2.5]
a549_yticks = list(range(0, 19, 2))
dthp_yticks = list(range(0, 19, 2))
nr_yticks = list(range(0, 23, 2))

BG = '#FCF4DD'
W, H = 951, 453
fig = plt.figure(figsize=(W / 100, H / 100), dpi=100)


def px_axes(left, top, right, bottom):
    return fig.add_axes([left / W, 1 - bottom / H, (right - left) / W, (bottom - top) / H])


def draw_panel(ax, sig, ns, cl, cr, xlim, ylim, xticks, yticks):
    ax.set_facecolor(BG)
    ns = np.array(ns)
    sig = np.array(sig)
    ax.scatter(ns[:, 0], ns[:, 1], s=11, color='#ACACAC', alpha=0.6, linewidths=0, zorder=2)
    ax.plot(cl[0], cl[1], color='#333333', lw=0.9, zorder=3)
    ax.plot(cr[0], cr[1], color='#333333', lw=0.9, zorder=3)
    ax.scatter(sig[:, 0], sig[:, 1], s=4.5, color='black', marker='s', linewidths=0, zorder=4)
    ax.set_xlim(*xlim)
    ax.set_ylim(*ylim)
    ax.set_xticks(xticks)
    ax.set_xticklabels([f"{v:g}" for v in xticks])
    ax.set_yticks(yticks)
    ax.set_yticklabels([f"{v:g}" for v in yticks], rotation=90, va='center')
    for lab in ax.get_xticklabels() + ax.get_yticklabels():
        lab.set_family(SANS)
        lab.set_fontweight('bold')
        lab.set_fontsize(6.5)
    ax.tick_params(length=2.5, width=0.6, color='#888888', pad=2)
    for s in ['top', 'right']:
        ax.spines[s].set_visible(False)
    for s in ['left', 'bottom']:
        ax.spines[s].set_color('#A8A8A8')
        ax.spines[s].set_linewidth(1.0)
    ax.set_ylabel("-log$_{10}$ p-value", family=SANS, fontsize=11.5, labelpad=6)


ax1 = px_axes(70, 55, 330, 400)
draw_panel(ax1, a549_sig, a549_ns, (a549_curve_left_x, a549_curve_left_y),
           (a549_curve_right_x, a549_curve_right_y), (-4.26, 2.47), (-0.86, 18.2), a549_xticks, a549_yticks)
ax2 = px_axes(386.7, 55, 630.7, 400)
draw_panel(ax2, dthp_sig, dthp_ns, (dthp_curve_left_x, dthp_curve_left_y),
           (dthp_curve_right_x, dthp_curve_right_y), (-2.73, 2.66), (-0.9, 18.86), dthp_xticks, dthp_yticks)
ax3 = px_axes(695.7, 53, 951, 403)
draw_panel(ax3, nr_sig, nr_ns, (nr_curve_left_x, nr_curve_left_y),
           (nr_curve_right_x, nr_curve_right_y), (-1.56, 2.87), (-1.09, 22.3), nr_xticks, nr_yticks)

for cx, t in zip([187, 507, 822], titles):
    fig.text(cx / W, 1 - 27 / H, t, ha='center', va='center', fontsize=21, fontweight='bold', family=SANS)
fig.text(30 / W, 1 - 27 / H, "A)", ha='center', va='center', fontsize=21, fontweight='bold', family=SANS)

fig.text(421 / W, 1 - 440 / H, "Difference", ha='right', va='center', fontsize=15, fontweight='bold', family=SANS)
fig.text(425 / W, 1 - 440 / H, "(10cm dish vs 6WP-well)", ha='left', va='center', fontsize=15, family=SANS)

fig.savefig("out.png", dpi=100)
